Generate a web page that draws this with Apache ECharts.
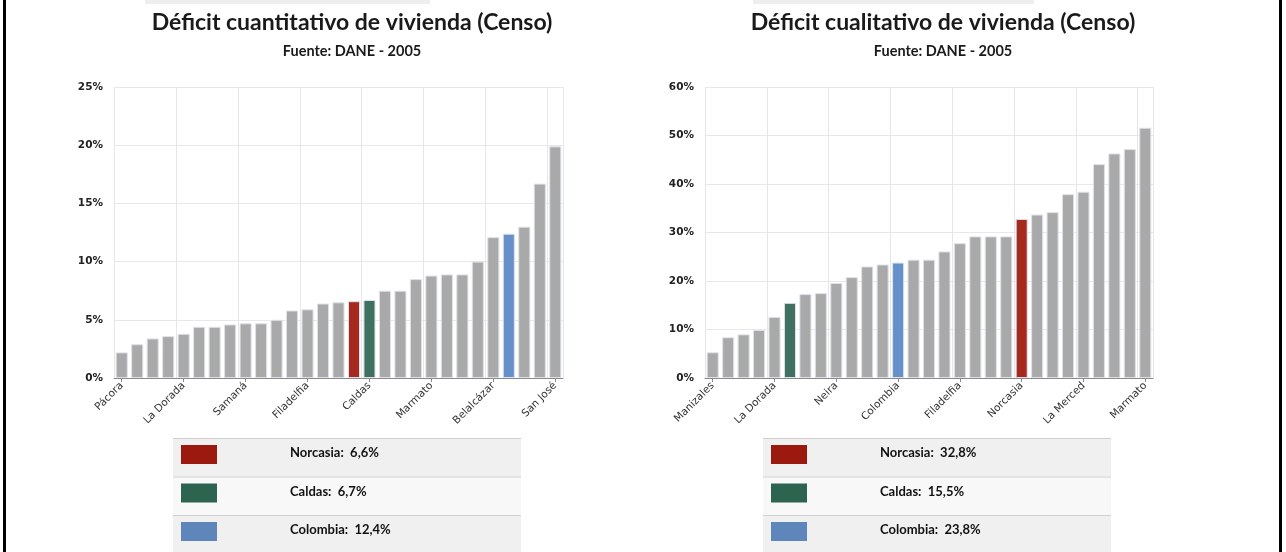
<!DOCTYPE html>
<html>
<head>
<meta charset="utf-8">
<script src="https://cdn.jsdelivr.net/npm/echarts@6/dist/echarts.min.js"></script>
<style>
html,body{margin:0;padding:0;background:#fff;}
#c{width:1286px;height:552px;}
</style>
</head>
<body>
<div id="c"></div>
<script>
// ---- Data ----
const catsCuant = ['Pácora','Aranzazu','Marulanda','Salamina','La Dorada','Aguadas','Neira','Manizales','Samaná','Villamaría','Chinchiná','Manzanares','Filadelfia','Pensilvania','Palestina','Norcasia','Caldas','Viterbo','Risaralda','Supía','Marmato','Anserma','Riosucio','Victoria','Belalcázar','Colombia','Marquetalia','La Merced','San José'];
const valsCuant = [2.2,2.9,3.4,3.6,3.8,4.4,4.4,4.6,4.7,4.7,5.0,5.8,5.9,6.4,6.5,6.6,6.7,7.5,7.5,8.5,8.8,8.9,8.9,10.0,12.1,12.4,13.0,16.7,19.9];
const catsCual = ['Manizales','Villamaría','Chinchiná','Palestina','La Dorada','Caldas','Salamina','Viterbo','Neira','Risaralda','Aguadas','Anserma','Colombia','Supía','Manzanares','Pácora','Filadelfia','Aranzazu','Belalcázar','Riosucio','Norcasia','Marquetalia','Victoria','Pensilvania','La Merced','Samaná','San José','Marulanda','Marmato'];
const valsCual = [5.3,8.4,9.0,9.9,12.6,15.5,17.3,17.5,19.6,20.8,23.0,23.4,23.8,24.4,24.4,26.1,27.8,29.2,29.2,29.2,32.8,33.7,34.2,37.9,38.4,44.1,46.3,47.2,51.6];
const highlightNames = ['Norcasia','Caldas','Colombia'];
const titles = ['Déficit cuantitativo de vivienda (Censo)','Déficit cualitativo de vivienda (Censo)'];
const subtitle = 'Fuente: DANE - 2005';
const yMax = [25, 60];
const yInterval = [5, 10];

// ---- Styles ----
const barColors = {'Norcasia':'#a5291f','Caldas':'#3f7060','Colombia':'#6690ca'};
const swatchColors = {'Norcasia':'#9c1910','Caldas':'#2d6450','Colombia':'#5e86ba'};
const gray = '#a9a9a9';
const titleFont = 'Lato, "Open Sans", sans-serif';

function barData(cats, vals){
  return vals.map((v,i)=>({
    value:v,
    itemStyle:{color: barColors[cats[i]] || gray}
  }));
}
function fmt(v){ return String(v.toFixed(1)).replace('.', ','); }

const grids = [
  {left:114, top:87, width:449, height:291},
  {left:705, top:87, width:448, height:291}
];
const centers = [347, 938];
const tableX = [173, 763];
const tableW = 348;

const chart = echarts.init(document.getElementById('c'), null, {renderer:'canvas'});

function xAxis(idx, cats){
  return {
    type:'category', gridIndex:idx, data:cats, boundaryGap:true,
    axisLine:{show:true, lineStyle:{color:'#8a8a8a', width:1}},
    axisTick:{show:true, alignWithLabel:true, interval:3, length:4, lineStyle:{color:'#8a8a8a'}},
    axisLabel:{interval:3, rotate:45, fontFamily:'"DejaVu Sans", Verdana, sans-serif', fontSize:10.5, color:'#333', margin:6},
    splitLine:{show:true, interval:3, lineStyle:{color:'#e6e6e6', width:1}}
  };
}
function yAxis(idx){
  return {
    type:'value', gridIndex:idx, min:0, max:yMax[idx], interval:yInterval[idx],
    axisLine:{show:false}, axisTick:{show:false},
    axisLabel:{formatter:'{value}%', fontFamily:'"DejaVu Sans", Verdana, sans-serif', fontSize:10.5, fontWeight:'bold', color:'#222', margin:11},
    splitLine:{show:true, lineStyle:{color:'#e8e8e8', width:1}}
  };
}

const graphics = [];
// outer frame lines
graphics.push({type:'rect', shape:{x:3, y:0, width:3, height:552}, style:{fill:'#000'}, silent:true});
graphics.push({type:'rect', shape:{x:1279, y:0, width:3, height:552}, style:{fill:'#000'}, silent:true});
graphics.push({type:'rect', shape:{x:145, y:0, width:285, height:4}, style:{fill:'#eeeeee'}, silent:true});
graphics.push({type:'rect', shape:{x:753, y:0, width:281, height:4}, style:{fill:'#eeeeee'}, silent:true});

const allVals = [[catsCuant, valsCuant],[catsCual, valsCual]];
[0,1].forEach(k=>{
  const [cats, vals] = allVals[k];
  highlightNames.forEach((name, r)=>{
    const y0 = 438 + r*38.5;
    graphics.push({type:'rect', shape:{x:tableX[k], y:y0, width:tableW, height:38.5},
      style:{fill: r===1 ? '#f8f8f8' : '#f0f0f0'}, silent:true, z:1});
    graphics.push({type:'rect', shape:{x:tableX[k], y:y0, width:tableW, height:1},
      style:{fill:'#cfcfcf'}, silent:true, z:2});
    graphics.push({type:'rect', shape:{x:tableX[k]+8, y:y0+7, width:36, height:19},
      style:{fill:swatchColors[name]}, silent:true, z:2});
    const v = vals[cats.indexOf(name)];
    graphics.push({type:'text', x:tableX[k]+117, y:y0+15, silent:true, z:2,
      style:{text: name + ':  ' + fmt(v) + '%', font:'bold 13px ' + titleFont, fill:'#111', verticalAlign:'middle'}});
  });
});

const option = {
  backgroundColor:'#fff',
  animation:false,
  title:[0,1].map(k=>({
    text:titles[k], left:centers[k], top:6, textAlign:'center',
    textStyle:{fontFamily:titleFont, fontSize:23, fontWeight:'bold', color:'#1a1a1a'},
    subtext:subtitle, itemGap:10,
    subtextStyle:{fontFamily:titleFont, fontSize:14.5, fontWeight:'bold', color:'#1a1a1a'}
  })),
  grid:grids,
  xAxis:[xAxis(0, catsCuant), xAxis(1, catsCual)],
  yAxis:[yAxis(0), yAxis(1)],
  series:[
    {type:'bar', xAxisIndex:0, yAxisIndex:0, data:barData(catsCuant, valsCuant), barCategoryGap:'22%',
     itemStyle:{borderColor:'#dde2ea', borderWidth:1}},
    {type:'bar', xAxisIndex:1, yAxisIndex:1, data:barData(catsCual, valsCual), barCategoryGap:'22%',
     itemStyle:{borderColor:'#dde2ea', borderWidth:1}}
  ],
  graphic:graphics
};
chart.setOption(option);
</script>
</body>
</html>
